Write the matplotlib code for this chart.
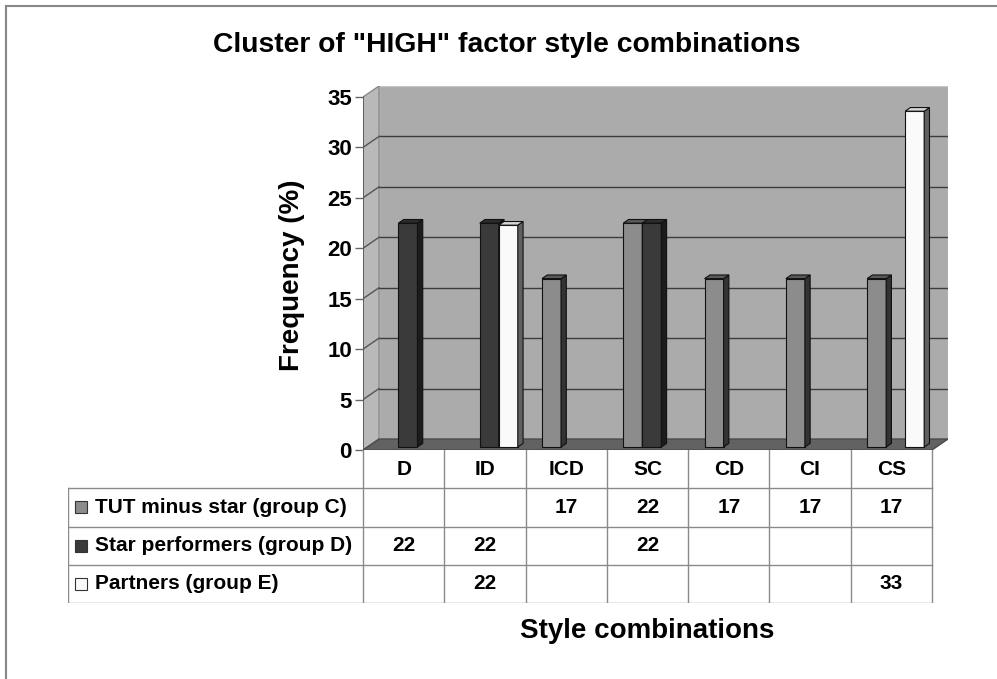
import numpy as np
import matplotlib
matplotlib.use('Agg')
import matplotlib.pyplot as plt
from matplotlib.lines import Line2D

plt.rcParams['font.family'] = ['Liberation Sans', 'DejaVu Sans']
plt.rcParams['font.weight'] = 'bold'

categorias = ['D', 'ID', 'ICD', 'SC', 'CD', 'CI', 'CS']
tut_minus_star = [np.nan, np.nan, 16.7, 22.2, 16.7, 16.7, 16.7]
star_performers = [22.2, 22.2, np.nan, 22.2, np.nan, np.nan, np.nan]
partners = [np.nan, 22.0, np.nan, np.nan, np.nan, np.nan, 33.3]
nomes = ['TUT minus star (group C)', 'Star performers (group D)', 'Partners (group E)']
y_ticks = [0, 5, 10, 15, 20, 25, 30, 35]

series = [tut_minus_star, star_performers, partners]
# cor da frente, lateral, topo
cores = [('#8c8c8c', '#333333', '#5a5a5a'),
         ('#3a3a3a', '#1c1c1c', '#2c2c2c'),
         ('#fafafa', '#606060', '#d6d6d6')]

W, H = 997, 679
fig = plt.figure(figsize=(W / 100, H / 100), dpi=100)

# profundidade (efeito 3D) em unidades de dados
DX, DY = 0.197, 1.09
n = len(categorias)
ymax = 35

ax = fig.add_axes([363 / W, (H - 450) / H, (948 - 363) / W, (450 - 86) / H])
ax.set_xlim(0, n + DX)
ax.set_ylim(0, ymax + DY)
for s in ax.spines.values():
    s.set_visible(False)
ax.set_xticks([])
ax.set_yticks(y_ticks)
ax.set_yticklabels([str(t) for t in y_ticks], fontsize=16, fontweight='bold')
ax.tick_params(axis='y', length=6, width=1, color='#666666', pad=2)

# paredes e piso
ax.fill([DX, n + DX, n + DX, DX], [DY, DY, ymax + DY, ymax + DY],
        facecolor='#ababab', edgecolor='#c4c4c4', lw=1, zorder=0)
ax.fill([0, DX, DX, 0], [0, DY, ymax + DY, ymax], facecolor='#b9b9b9',
        edgecolor='#8a8a8a', lw=1, zorder=0)
ax.fill([0, n, n + DX, DX], [0, 0, DY, DY], facecolor='#626262',
        edgecolor='#4a4a4a', lw=1, zorder=1)
for t in y_ticks[1:-1]:
    ax.plot([DX, n + DX], [t + DY, t + DY], color='#3c3c3c', lw=1, zorder=0.5)
    ax.plot([0, DX], [t, t + DY], color='#555555', lw=1, zorder=0.5)
ax.plot([0, 0], [0, ymax], color='#555555', lw=1.2, zorder=2)

# barras 3D
w = 0.234
f0, f1 = 0.27, 0.6
for k, (vals, (cf, cs, ct)) in enumerate(zip(series, cores)):
    for i, v in enumerate(vals):
        if np.isnan(v):
            continue
        x0 = i + 0.5 + (k - 1.5) * w + f0 * DX
        x1 = x0 + w
        y0 = f0 * DY
        y1 = v + f0 * DY
        ddx, ddy = (f1 - f0) * DX, (f1 - f0) * DY
        ax.fill([x0, x1, x1, x0], [y0, y0, y1, y1], facecolor=cf,
                edgecolor='#111111', lw=0.8, zorder=3)
        ax.fill([x1, x1 + ddx, x1 + ddx, x1], [y0, y0 + ddy, y1 + ddy, y1],
                facecolor=cs, edgecolor='#111111', lw=0.8, zorder=3)
        ax.fill([x0, x1, x1 + ddx, x0 + ddx], [y1, y1, y1 + ddy, y1 + ddy],
                facecolor=ct, edgecolor='#111111', lw=0.8, zorder=3)

# tabela de dados
left_col = 295 / 81.29
tab = fig.add_axes([68 / W, (H - 603) / H, (948 - 68) / W, (603 - 450) / H])
tab.set_xlim(-left_col, n + DX)
tab.set_ylim(4, 0)
tab.axis('off')
lc = '#8a8a8a'
for i in range(n + 1):
    tab.plot([i, i], [0, 4], color=lc, lw=1)
tab.plot([-left_col, -left_col], [1, 4], color=lc, lw=1)
for r in range(1, 5):
    tab.plot([-left_col, n], [r, r], color=lc, lw=1)
for i, c in enumerate(categorias):
    tab.text(i + 0.5, 0.5, c, ha='center', va='center', fontsize=15, fontweight='bold')
for k, (vals, nome) in enumerate(zip(series, nomes)):
    r = k + 1.5
    tab.plot([-left_col + 0.16], [r], marker='s', markersize=8,
             markerfacecolor=cores[k][0], markeredgecolor='#333333', mew=0.8)
    tab.text(-left_col + 0.33, r, nome, ha='left', va='center', fontsize=15, fontweight='bold')
    for i, v in enumerate(vals):
        if not np.isnan(v):
            tab.text(i + 0.5, r, f'{v:.0f}', ha='center', va='center', fontsize=15, fontweight='bold')

# textos
fig.text(507 / W, 1 - 45 / H, 'Cluster of "HIGH" factor style combinations',
         ha='center', va='center', fontsize=20.3, fontweight='bold')
fig.text(292 / W, 1 - 275 / H, 'Frequency (%)', ha='center', va='center',
         rotation=90, fontsize=20, fontweight='bold')
fig.text(647 / W, 1 - 631 / H, 'Style combinations', ha='center', va='center',
         fontsize=20, fontweight='bold')

# moldura
fig.add_artist(Line2D([6 / W, 6 / W], [0, 1 - 6 / H], color='#888888', lw=1.5))
fig.add_artist(Line2D([6 / W, 1], [1 - 6 / H, 1 - 6 / H], color='#888888', lw=1.5))

fig.savefig('out.png', dpi=100)
